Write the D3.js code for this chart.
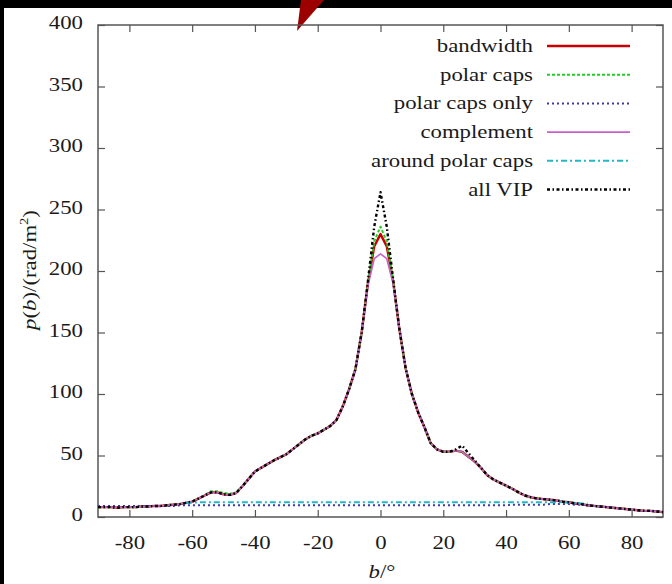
<!DOCTYPE html>
<html>
<head>
<meta charset="utf-8">
<script src="https://cdn.jsdelivr.net/npm/d3@7"></script>
<style>
  body { margin: 0; background: #fff; }
  svg { display: block; }
  text { font-family: "Liberation Serif", "DejaVu Serif", serif; fill: #1a1a1a; }
</style>
</head>
<body>
<div id="chart"></div>
<script>
// galactic latitude grid (degrees)
var bGrid = d3.range(-90, 91, 2);

var bandwidth = [
  8, 8, 8, 7.5, 8, 8, 8, 8.5, 8.5, 9,
  9, 9.5, 10, 10.5, 11.5, 12.5, 15, 17.5, 20, 20,
  18.5, 18, 19.5, 25, 31, 37, 40, 43, 46, 48.5,
  51, 55, 59, 63, 66, 68, 71, 74, 79, 90,
  104, 120, 150, 190, 220, 230, 220, 192, 153, 121,
  100, 85, 73, 60, 55, 53, 53, 54, 53, 49,
  45, 40, 34, 30.5, 28, 25.5, 23, 20, 17.5, 16,
  15, 14.5, 14, 13.5, 12.5, 12, 11, 10.5, 9.5, 9,
  8.5, 8, 7.5, 7, 6.5, 6, 5.5, 5, 5, 4.5,
  4
];

var polarCaps = [
  8, 8, 8, 7.5, 8, 8, 8, 8.5, 8.5, 9,
  9, 9.5, 10, 10.5, 11.5, 12.5, 15, 18, 21, 21,
  19.5, 19, 20, 25, 31, 37, 40, 43, 46, 48.5,
  51, 55, 59, 63, 66, 68, 71, 74, 79, 90,
  104, 120, 150, 190, 224, 236, 224, 192, 153, 121,
  100, 85, 73, 60, 55, 53, 53, 54, 53, 49,
  45, 40, 34, 30.5, 28, 25.5, 23, 20, 17.5, 16,
  15, 14.5, 14, 13.5, 12.5, 12, 11, 10.5, 9.5, 9,
  8.5, 8, 7.5, 7, 6.5, 6, 5.5, 5, 5, 4.5,
  4
];

var polarCapsOnly = [
  9, 9, 9, 9, 9, 9, 9, 9, 9, 9,
  9, 9, 9, 9.5, 9.5, 9.5, 9.5, 9.5, 9.5, 9.5,
  9.5, 9.5, 9.5, 9.5, 9.5, 9.5, 9.5, 9.5, 9.5, 9.5,
  9.5, 9.5, 9.5, 9.5, 9.5, 9.5, 9.5, 9.5, 9.5, 9.5,
  9.5, 9.5, 9.5, 9.5, 9.5, 9.5, 9.5, 9.5, 9.5, 9.5,
  9.5, 9.5, 9.5, 9.5, 9.5, 9.5, 9.5, 9.5, 9.5, 9.5,
  9.5, 9.5, 9.5, 9.5, 9.5, 9.5, 10, 10, 10, 10,
  10, 10, 10.5, 10.5, 10.5, 10.5, 10, 10, 9.5, 9,
  8.5, 8, 7.5, 7, 6.5, 6, 5.5, 5, 5, 4.5,
  4
];

var complement = [
  8, 8, 8, 7.5, 8, 8, 8, 8.5, 8.5, 9,
  9, 9.5, 10, 10.5, 11.5, 12.5, 15, 17.5, 20, 20,
  18.5, 18, 19.5, 25, 31, 37, 40, 43, 46, 48.5,
  51, 55, 59, 63, 66, 68, 71, 74, 79, 90,
  104, 120, 150, 188, 210, 214, 210, 190, 153, 121,
  100, 85, 73, 60, 55, 53, 53, 54, 53, 49,
  45, 40, 34, 30.5, 28, 25.5, 23, 20, 17.5, 16,
  15, 14.5, 14, 13.5, 12.5, 12, 11, 10.5, 9.5, 9,
  8.5, 8, 7.5, 7, 6.5, 6, 5.5, 5, 5, 4.5,
  4
];

var aroundPolarCaps = [
  null, null, null, null, null, null, null, null, null, null,
  null, null, null, null, 11.5, 11.5, 12, 12, 12, 12,
  12, 12, 12, 12, 12, 12, 12, 12, 12, 12,
  12, 12, 12, 12, 12, 12, 12, 12, 12, 12,
  12, 12, 12, 12, 12, 12, 12, 12, 12, 12,
  12, 12, 12, 12, 12, 12, 12, 12, 12, 12,
  12, 12, 12, 12, 12, 12, 12, 12, 12, 12,
  12, 12, 12, 12, 12, 11.5, 11.5, 11, 11, null,
  null, null, null, null, null, null, null, null, null, null,
  null
];

var allVIP = [
  8, 8, 8, 7.5, 8, 8, 8, 8.5, 8.5, 9,
  9, 9.5, 10, 10.5, 11.5, 12.5, 15, 17.5, 20, 20,
  18.5, 18, 19.5, 25, 31, 37, 40, 43, 46, 48.5,
  51, 55, 59, 63, 66, 68, 71, 74, 79, 90,
  104, 120, 150, 192, 236, 264, 236, 194, 153, 121,
  100, 85, 73, 60, 55, 53, 53, 55, 58, 52,
  46, 40, 34, 30.5, 28, 25.5, 23, 20, 17.5, 16,
  15, 14.5, 14, 13.5, 12.5, 12, 11, 10.5, 9.5, 9,
  8.5, 8, 7.5, 7, 6.5, 6, 5.5, 5, 5, 4.5,
  4
];

var xTicks = [-80, -60, -40, -20, 0, 20, 40, 60, 80];
var yTicks = [0, 50, 100, 150, 200, 250, 300, 350, 400];

var series = [
  { name: "bandwidth", values: bandwidth, color: "#c80000", dash: null, width: 2.4 },
  { name: "polar caps", values: polarCaps, color: "#22cc22", dash: "3,2", width: 2 },
  { name: "polar caps only", values: polarCapsOnly, color: "#3a3aa8", dash: "2,3", width: 2 },
  { name: "complement", values: complement, color: "#c860c8", dash: null, width: 1.6 },
  { name: "around polar caps", values: aroundPolarCaps, color: "#22b8c8", dash: "6,3,2,3", width: 2 },
  { name: "all VIP", values: allVIP, color: "#000", dash: "3,2.5,1.5,2.5", width: 2.4 }
];

var W = 672, H = 584;
var plotL = 98, plotR = 663, plotT = 25, plotB = 517;
var sx = 1.2; // glyphs in the picture are stretched horizontally

var svg = d3.select("#chart").append("svg").attr("width", W).attr("height", H);

// frame of the scanned page
svg.append("rect").attr("x", 0).attr("y", 0).attr("width", W).attr("height", 8).attr("fill", "#000");
svg.append("rect").attr("x", 0).attr("y", 0).attr("width", 4).attr("height", H).attr("fill", "#000");
svg.append("path").attr("d", "M301,0L324,0L297,31Z").attr("fill", "#9c0000");

var x = d3.scaleLinear().domain([-90, 90]).range([plotL, plotR]);
var y = d3.scaleLinear().domain([0, 400]).range([plotB, plotT]);

function styleAxis(g) {
  g.select(".domain").remove();
  g.selectAll(".tick line").attr("stroke", "#555").attr("stroke-width", 1.2);
}

var plain = (d) => String(d);

var gx = svg.append("g").attr("transform", "translate(0," + plotB + ")")
  .call(d3.axisBottom(x).tickValues(xTicks).tickFormat(plain).tickSize(-7).tickSizeOuter(0));
styleAxis(gx);
gx.selectAll("text").attr("y", null).attr("dy", null)
  .attr("font-size", 19).attr("fill", "#1a1a1a")
  .attr("transform", "translate(0,32) scale(" + sx + ",1)");

var gxt = svg.append("g").attr("transform", "translate(0," + plotT + ")")
  .call(d3.axisTop(x).tickValues(xTicks).tickSize(-7).tickSizeOuter(0));
styleAxis(gxt);
gxt.selectAll("text").remove();

var gy = svg.append("g").attr("transform", "translate(" + plotL + ",0)")
  .call(d3.axisLeft(y).tickValues(yTicks).tickFormat(plain).tickSize(-7).tickSizeOuter(0));
styleAxis(gy);
gy.selectAll("text").attr("x", null).attr("dy", null)
  .attr("font-size", 19).attr("fill", "#1a1a1a").attr("text-anchor", "end")
  .attr("transform", "translate(-15,3.5) scale(" + sx + ",1)");

var gyr = svg.append("g").attr("transform", "translate(" + plotR + ",0)")
  .call(d3.axisRight(y).tickValues(yTicks).tickSize(-7).tickSizeOuter(0));
styleAxis(gyr);
gyr.selectAll("text").remove();

svg.append("rect").attr("x", plotL).attr("y", plotT)
  .attr("width", plotR - plotL).attr("height", plotB - plotT)
  .attr("fill", "none").attr("stroke", "#555").attr("stroke-width", 1.5);

var line = d3.line()
  .defined((d) => d[1] != null)
  .x((d) => x(d[0]))
  .y((d) => y(d[1]));

series.forEach((s) => {
  svg.append("path")
    .datum(bGrid.map((b, i) => [b, s.values[i]]))
    .attr("fill", "none")
    .attr("stroke", s.color)
    .attr("stroke-width", s.width)
    .attr("stroke-dasharray", s.dash)
    .attr("stroke-linejoin", "round")
    .attr("d", line);
});

// legend
var legend = svg.append("g");
series.forEach((s, i) => {
  var ly = 46 + i * 28.7;
  legend.append("text")
    .attr("text-anchor", "end").attr("font-size", 19)
    .attr("transform", "translate(533," + (ly + 6) + ") scale(" + sx + ",1)")
    .text(s.name);
  legend.append("line")
    .attr("x1", 547).attr("x2", 630).attr("y1", ly).attr("y2", ly)
    .attr("stroke", s.color).attr("stroke-width", s.width)
    .attr("stroke-dasharray", s.dash);
});

// axis titles
var yl = svg.append("text").attr("text-anchor", "middle").attr("font-size", 19)
  .attr("transform", "translate(36,270) rotate(-90) scale(" + sx + ",1)");
yl.append("tspan").attr("font-style", "italic").text("p");
yl.append("tspan").text("(");
yl.append("tspan").attr("font-style", "italic").text("b");
yl.append("tspan").text(")/(rad/m");
yl.append("tspan").attr("font-size", 12).attr("dy", -8).text("2");
yl.append("tspan").attr("dy", 8).text(")");

var xl = svg.append("text").attr("text-anchor", "middle").attr("font-size", 19)
  .attr("transform", "translate(382,578) scale(" + sx + ",1)");
xl.append("tspan").attr("font-style", "italic").text("b");
xl.append("tspan").text("/°");
</script>
</body>
</html>
